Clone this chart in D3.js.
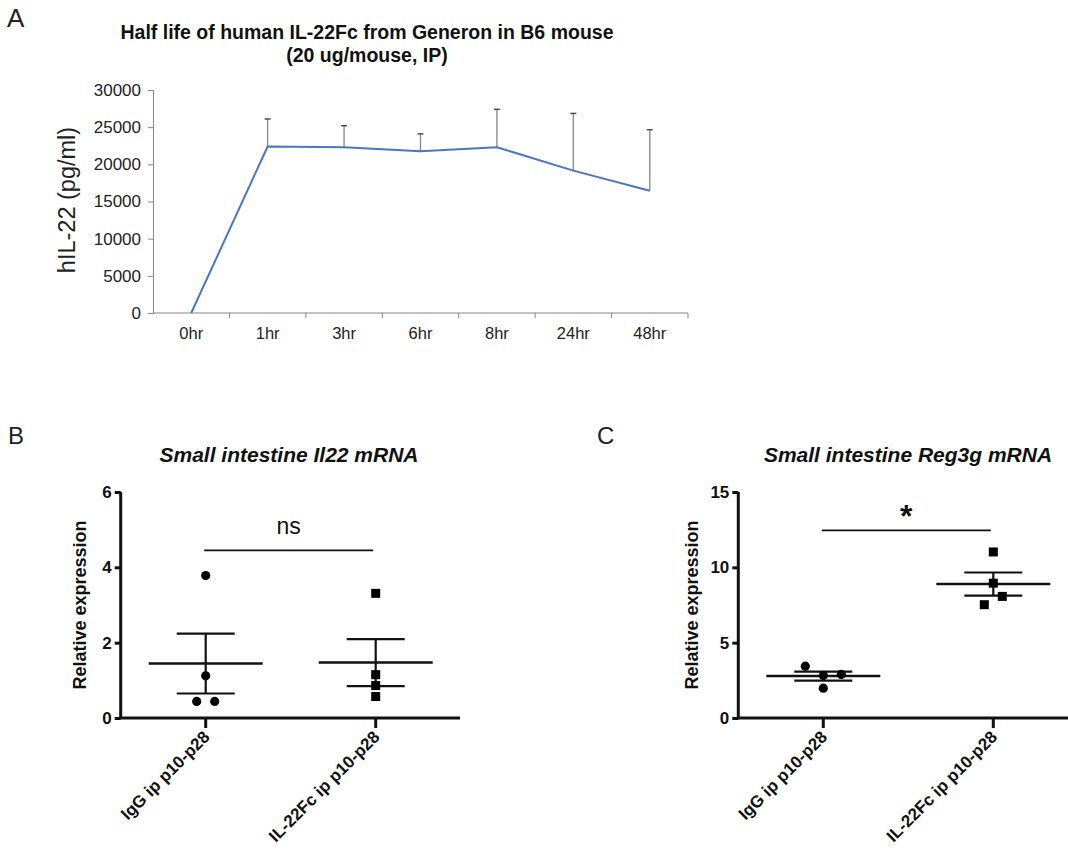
<!DOCTYPE html>
<html>
<head>
<meta charset="utf-8">
<script src="https://cdn.jsdelivr.net/npm/d3@7.9.0/dist/d3.min.js"></script>
<style>
  body { margin: 0; background: #fff; }
  svg { display: block; font-family: "Liberation Sans", Arial, sans-serif; }
</style>
</head>
<body>
<div class="container"></div>
<script>
// ---- data ----
// panel A: serum hIL-22 over time
const timeLabels = ["0hr", "1hr", "3hr", "6hr", "8hr", "24hr", "48hr"];
const hilMean = [0, 22400, 22300, 21750, 22300, 19150, 16450];
const hilErr = [0, 3700, 2900, 2350, 5100, 7700, 8200];
const yTicksA = [0, 5000, 10000, 15000, 20000, 25000, 30000];

// panels B and C: individual mice
const groups = ["IgG ip p10-p28", "IL-22Fc ip p10-p28"];
const il22Igg = [3.78, 1.12, 0.44, 0.44];
const il22Fc = [3.31, 1.15, 0.86, 0.57];
const reg3gIgg = [3.44, 2.82, 2.89, 1.98];
const reg3gFc = [11.02, 8.95, 7.52, 8.07];
const yTicksB = [0, 2, 4, 6];
const yTicksC = [0, 5, 10, 15];
const sigB = { y: 4.45, label: "ns" };
const sigC = { y: 12.45, label: "*" };

const width = 1068, height = 852;

const svg = d3.select(".container")
    .append("svg")
    .attr("width", width)
    .attr("height", height);

svg.append("rect").attr("width", width).attr("height", height).attr("fill", "#fff");

// ---------- Panel A ----------
const xA = d3.scaleBand().domain(timeLabels).range([153, 688]);
const yA = d3.scaleLinear().domain([0, 30000]).range([313, 90]);

svg.append("text").attr("x", 7).attr("y", 27)
    .style("font-size", "26px").attr("fill", "#222").text("A");

const titleA = svg.append("text").attr("text-anchor", "middle")
    .style("font-size", "19.5px").style("font-weight", "bold").attr("fill", "#111");
titleA.append("tspan").attr("x", 367).attr("y", 39).text("Half life of human IL-22Fc from Generon in B6 mouse");
titleA.append("tspan").attr("x", 367).attr("y", 62).text("(20 ug/mouse, IP)");

// y axis
const axA = svg.append("g").attr("transform", "translate(153,0)")
    .call(d3.axisLeft(yA).tickValues(yTicksA).tickSize(5).tickPadding(7).tickFormat(d3.format("d")));
axA.select(".domain").attr("stroke", "#868686");
axA.selectAll(".tick line").attr("stroke", "#868686");
axA.selectAll("text").style("font-size", "17px").attr("fill", "#222").style("font-family", "Liberation Sans, Arial");

// x axis: ticks at band edges, labels at centres
const gx = svg.append("g");
gx.append("line").attr("x1", 153).attr("x2", 688).attr("y1", yA(0)).attr("y2", yA(0)).attr("stroke", "#868686");
gx.selectAll(".tk").data(timeLabels).enter().append("line")
    .attr("x1", d => xA(d) + xA.bandwidth()).attr("x2", d => xA(d) + xA.bandwidth())
    .attr("y1", yA(0)).attr("y2", yA(0) + 5).attr("stroke", "#868686");
gx.selectAll(".lb").data(timeLabels).enter().append("text")
    .attr("x", d => xA(d) + xA.bandwidth() / 2).attr("y", 339)
    .attr("text-anchor", "middle").style("font-size", "16.5px").attr("fill", "#222")
    .text(d => d);

svg.append("text")
    .attr("transform", "translate(75,200) rotate(-90)")
    .attr("text-anchor", "middle").style("font-size", "23.5px").attr("fill", "#222")
    .text("hIL-22 (pg/ml)");

const ptsA = timeLabels.map((t, i) => ({ x: xA(t) + xA.bandwidth() / 2, m: hilMean[i], e: hilErr[i] }));

// error bars (upper only)
const eb = svg.append("g");
eb.selectAll("line.v").data(ptsA.filter(d => d.e > 0)).enter().append("line")
    .attr("x1", d => d.x).attr("x2", d => d.x)
    .attr("y1", d => yA(d.m)).attr("y2", d => yA(d.m + d.e))
    .attr("stroke", "#8c8c8c").attr("stroke-width", 1.4);
eb.selectAll("line.c").data(ptsA.filter(d => d.e > 0)).enter().append("line")
    .attr("x1", d => d.x - 3).attr("x2", d => d.x + 3)
    .attr("y1", d => yA(d.m + d.e)).attr("y2", d => yA(d.m + d.e))
    .attr("stroke", "#444").attr("stroke-width", 1.4);

svg.append("path").datum(ptsA)
    .attr("d", d3.line().x(d => d.x).y(d => yA(d.m)))
    .attr("fill", "none").attr("stroke", "#4a74c6").attr("stroke-width", 2);

// ---------- Panels B, C ----------
function scatterPanel(opt) {
    const x = d3.scaleBand().domain(groups).range([opt.x0, opt.x0 + 340]);
    const y = d3.scaleLinear().domain([0, opt.ymax]).range([718, 492]);
    const g = svg.append("g");
    const cx = d => x(d) + x.bandwidth() / 2;

    g.append("text").attr("x", opt.letterX).attr("y", 444)
        .style("font-size", "24px").attr("fill", "#222").text(opt.letter);

    g.append("text").attr("x", opt.titleX).attr("y", 462).attr("text-anchor", "middle")
        .style("font-size", "21px").style("font-weight", "bold").style("font-style", "italic")
        .attr("fill", "#111").text(opt.title);

    // y axis
    const ay = g.append("g").attr("transform", `translate(${opt.x0},0)`)
        .call(d3.axisLeft(y).tickValues(opt.ticks).tickSize(6).tickPadding(3).tickFormat(d3.format("d")));
    ay.select(".domain").attr("stroke", "#111").attr("stroke-width", 3).attr("d", `M0,${y(0)}V${y(opt.ymax)}`);
    ay.selectAll(".tick line").attr("stroke", "#111").attr("stroke-width", 3);
    ay.selectAll("text").style("font-size", "17px").style("font-weight", "bold").attr("fill", "#111")
        .style("font-family", "Liberation Sans, Arial");

    // x axis
    g.append("line").attr("x1", opt.x0 - 1.5).attr("x2", opt.xEnd)
        .attr("y1", y(0)).attr("y2", y(0)).attr("stroke", "#111").attr("stroke-width", 3);
    g.selectAll(".xt").data(groups).enter().append("line")
        .attr("x1", cx).attr("x2", cx).attr("y1", y(0)).attr("y2", y(0) + 10)
        .attr("stroke", "#111").attr("stroke-width", 3);
    g.selectAll(".xl").data(groups).enter().append("text")
        .attr("transform", d => `translate(${cx(d) + 5},${y(0) + 20}) rotate(-45)`)
        .attr("text-anchor", "end").style("font-size", "17px").style("font-weight", "bold")
        .attr("fill", "#111").text(d => d);

    g.append("text")
        .attr("transform", `translate(${opt.labelX},605) rotate(-90)`)
        .attr("text-anchor", "middle").style("font-size", "18px").style("font-weight", "bold")
        .attr("fill", "#111").text("Relative expression");

    opt.series.forEach((vals, gi) => {
        const c = cx(groups[gi]);
        const mean = d3.mean(vals);
        const sem = d3.deviation(vals) / Math.sqrt(vals.length);

        // spread points that overlap vertically
        const order = d3.range(vals.length).sort((a, b) => vals[b] - vals[a]);
        const off = new Array(vals.length).fill(0);
        let cluster = [order[0]];
        const flush = () => {
            cluster.sort((a, b) => a - b);
            cluster.forEach((idx, k) => { off[idx] = (k - (cluster.length - 1) / 2) * 18; });
        };
        for (let k = 1; k < order.length; k++) {
            const prev = order[k - 1], cur = order[k];
            if (Math.abs(y(vals[prev]) - y(vals[cur])) < 9) cluster.push(cur);
            else { flush(); cluster = [cur]; }
        }
        flush();

        // mean and SEM
        g.append("line").attr("x1", c - 57).attr("x2", c + 57)
            .attr("y1", y(mean)).attr("y2", y(mean)).attr("stroke", "#111").attr("stroke-width", 2.5);
        g.append("line").attr("x1", c).attr("x2", c)
            .attr("y1", y(mean - sem)).attr("y2", y(mean + sem)).attr("stroke", "#111").attr("stroke-width", 2.2);
        [mean - sem, mean + sem].forEach(v => {
            g.append("line").attr("x1", c - 29).attr("x2", c + 29)
                .attr("y1", y(v)).attr("y2", y(v)).attr("stroke", "#111").attr("stroke-width", 2.2);
        });

        const pts = g.selectAll(null).data(vals.map((v, i) => ({ v, o: off[i] }))).enter();
        if (gi === 0) {
            pts.append("circle").attr("cx", d => c + d.o).attr("cy", d => y(d.v)).attr("r", 4.6).attr("fill", "#000");
        } else {
            pts.append("rect").attr("x", d => c + d.o - 4.5).attr("y", d => y(d.v) - 4.5)
                .attr("width", 9).attr("height", 9).attr("fill", "#000");
        }
    });

    // significance bar
    g.append("line").attr("x1", cx(groups[0]) - 1.5).attr("x2", cx(groups[1]) - 2.5)
        .attr("y1", y(opt.sig.y)).attr("y2", y(opt.sig.y)).attr("stroke", "#111").attr("stroke-width", 1.6);
    const big = opt.sig.label === "*";
    g.append("text").attr("x", (cx(groups[0]) + cx(groups[1])) / 2 - 2)
        .attr("y", y(opt.sig.y) + (big ? -3 : -16))
        .attr("text-anchor", "middle")
        .style("font-size", big ? "32px" : "23px").style("font-weight", big ? "bold" : "normal")
        .attr("fill", "#111").text(opt.sig.label);
}

scatterPanel({
    x0: 120.7, xEnd: 460, ymax: 6, ticks: yTicksB, letter: "B", letterX: 8,
    title: "Small intestine Il22 mRNA", titleX: 289, labelX: 86,
    series: [il22Igg, il22Fc], sig: sigB
});
scatterPanel({
    x0: 738.3, xEnd: 1068, ymax: 15, ticks: yTicksC, letter: "C", letterX: 597,
    title: "Small intestine Reg3g mRNA", titleX: 908, labelX: 698,
    series: [reg3gIgg, reg3gFc], sig: sigC
});
</script>
</body>
</html>
